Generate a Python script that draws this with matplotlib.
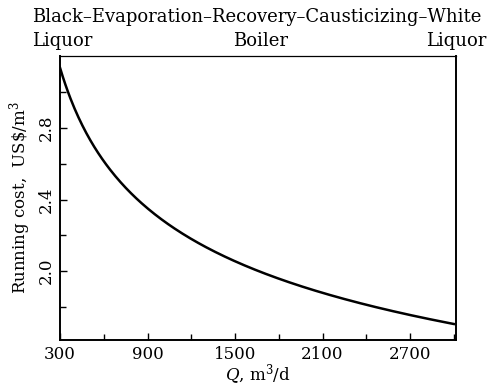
import matplotlib.pyplot as plt
import numpy as np

# flow rate Q (m3/d) and running cost (US$/m3)
q_flow = [300, 470, 680, 850, 1050, 1240, 1600, 1950, 2290, 2630, 3000]
run_cost = [3.135, 2.80, 2.52, 2.375, 2.26, 2.17, 2.03, 1.915, 1.82, 1.765, 1.71]

x_major = [300, 900, 1500, 2100, 2700]
y_major = [2.0, 2.4, 2.8]

plt.rcParams['font.family'] = 'DejaVu Serif'
plt.rcParams['mathtext.fontset'] = 'dejavuserif'

fig = plt.figure(figsize=(4.91, 3.88), dpi=100)
ax = fig.add_axes([0.1222, 0.1237, 0.8065, 0.732])

# smooth the hand-read points a little
xs = np.linspace(q_flow[0], q_flow[-1], 300)
coef = np.polyfit(np.log(q_flow), run_cost, 3)
ax.plot(xs, np.polyval(coef, np.log(xs)), color='black', linewidth=1.8)

ax.set_xlim(300, 3015)
ax.set_ylim(1.614, 3.203)

ax.set_xticks(x_major)
ax.set_xticks(np.arange(300, 3001, 300), minor=True)
ax.set_yticks(y_major)
ax.set_yticks(np.arange(1.8, 3.01, 0.2), minor=True)
ax.set_yticklabels([f'{v:.1f}' for v in y_major], rotation=90, va='center')

ax.tick_params(direction='in', which='both', labelsize=12, width=1)
ax.tick_params(which='major', length=5, pad=4)
ax.tick_params(which='minor', length=4)
for s in ax.spines.values():
    s.set_linewidth(1.4)
ax.spines['top'].set_linewidth(0.9)

ax.set_xlabel(r'$Q$, m$^3$/d', fontsize=12, labelpad=0)
ax.set_ylabel(r'Running cost,  US\$/m$^3$', fontsize=12, labelpad=3)

fig.text(0.065, 0.955, 'Black\u2013Evaporation\u2013Recovery\u2013Causticizing\u2013White',
         fontsize=13, ha='left', va='center')
fig.text(0.065, 0.895, 'Liquor', fontsize=13, ha='left', va='center')
fig.text(0.53, 0.895, 'Boiler', fontsize=13, ha='center', va='center')
fig.text(0.99, 0.895, 'Liquor', fontsize=13, ha='right', va='center')

plt.savefig('out.png', dpi=100)
